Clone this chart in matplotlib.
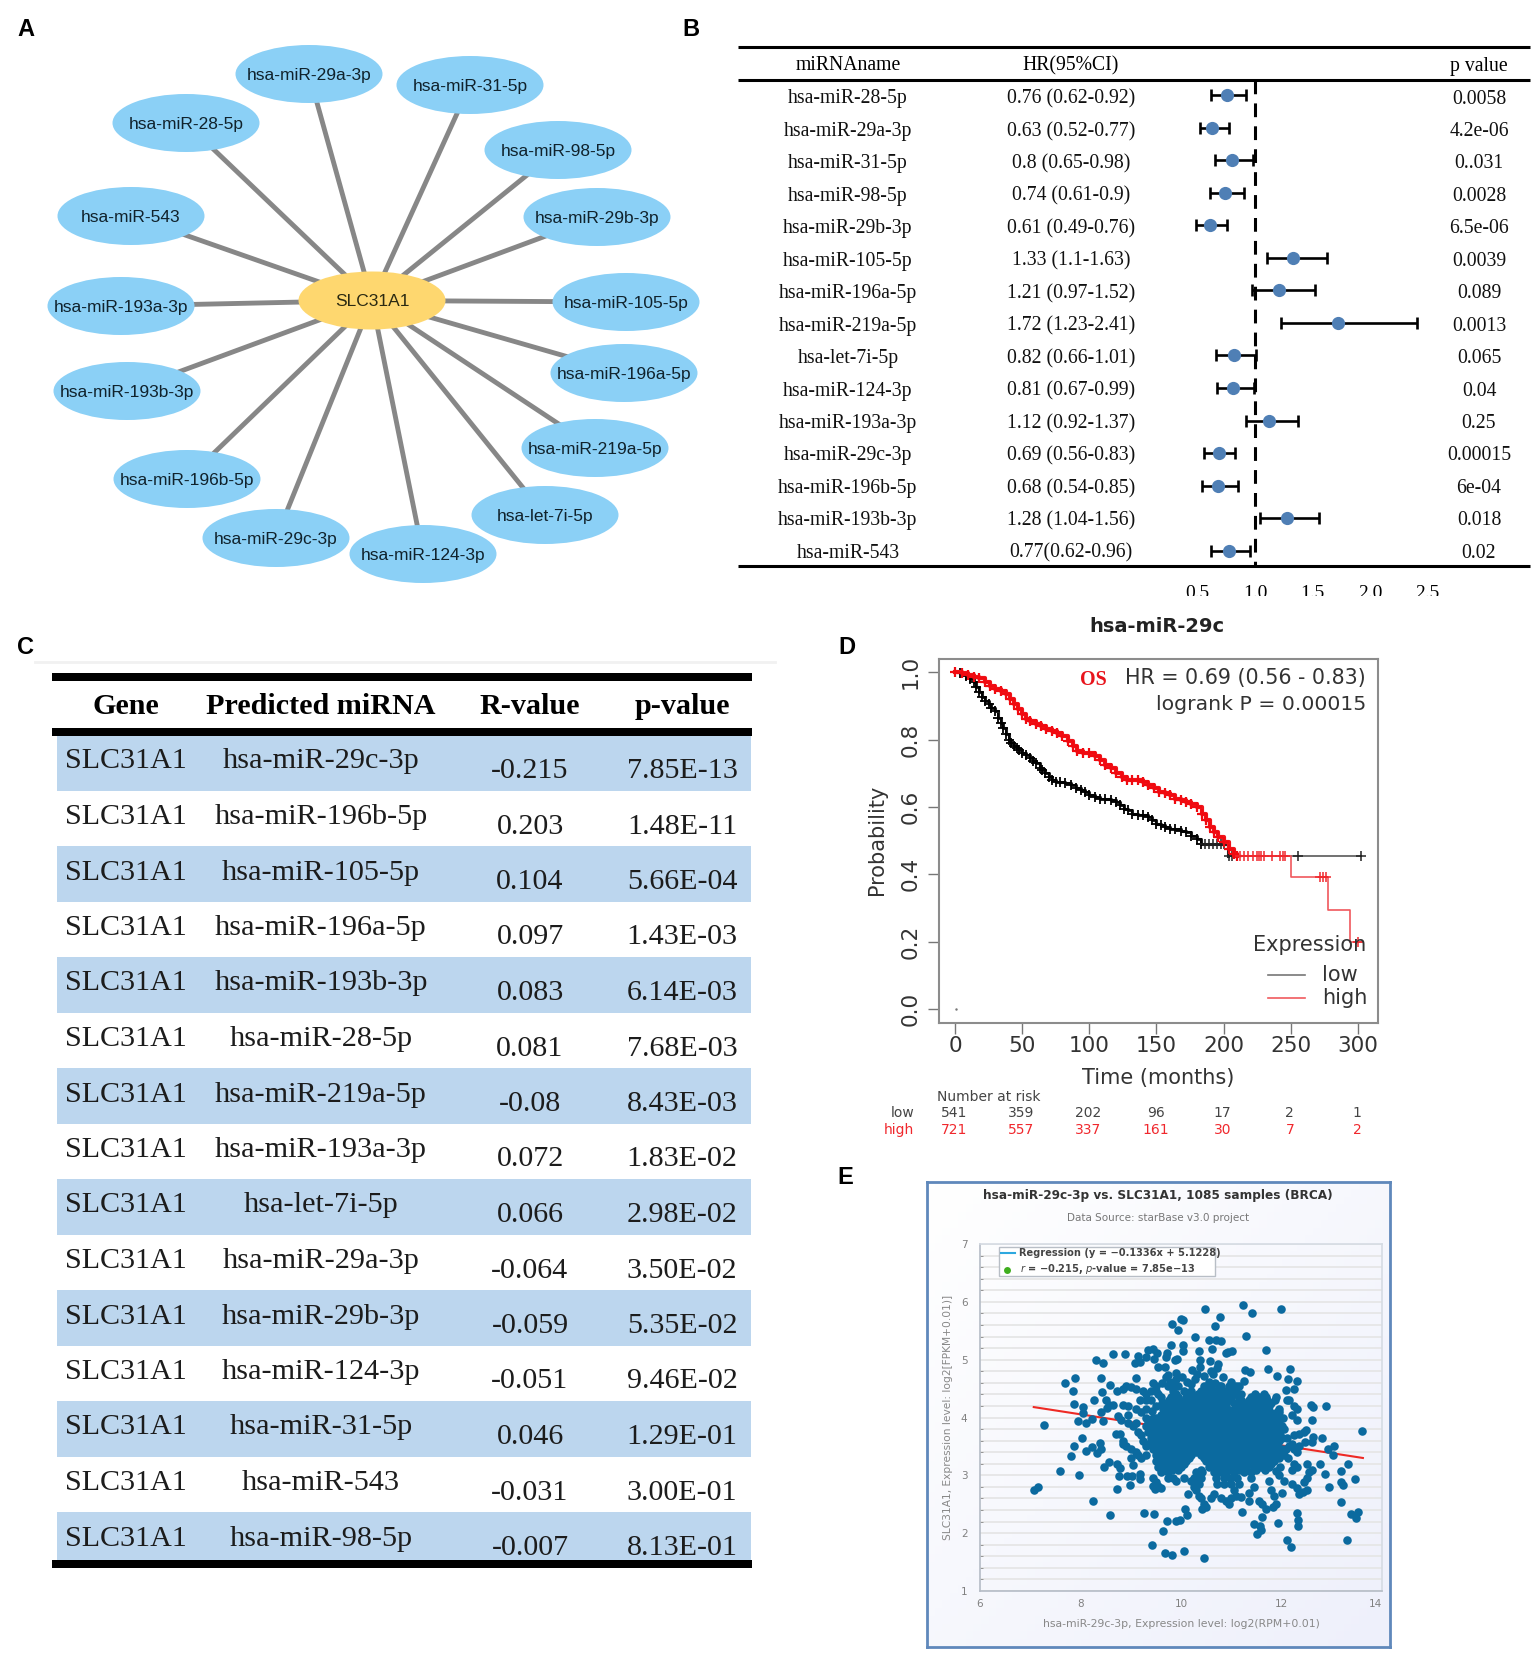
"""
Composite figure: miRNA network, forest table, correlation table, KM curve and scatter.
Page layout is laid out in pixels of the 1535x1654 picture.
"""

import numpy as np
import matplotlib
matplotlib.use('Agg')
import matplotlib.pyplot as plt
from matplotlib.patches import Ellipse, Rectangle

W, H = 1535, 1654
SANS = 'Liberation Sans'
SERIF = 'Liberation Serif'

# ---- panel A
hub_name = 'SLC31A1'
hub_xy = (372, 300.5)
node_names = ['hsa-miR-28-5p', 'hsa-miR-29a-3p', 'hsa-miR-31-5p', 'hsa-miR-98-5p', 'hsa-miR-29b-3p',
              'hsa-miR-105-5p', 'hsa-miR-196a-5p', 'hsa-miR-219a-5p', 'hsa-let-7i-5p', 'hsa-miR-124-3p',
              'hsa-miR-29c-3p', 'hsa-miR-196b-5p', 'hsa-miR-193b-3p', 'hsa-miR-193a-3p', 'hsa-miR-543']
node_x = [186, 309, 470, 558, 597, 626, 624, 595, 545, 423, 276, 187, 127, 121, 131]
node_y = [123, 74, 85, 150, 217, 302, 373, 448, 515, 554, 538, 479, 391, 306, 216]

# ---- panel B
forest_names = ['hsa-miR-28-5p', 'hsa-miR-29a-3p', 'hsa-miR-31-5p', 'hsa-miR-98-5p', 'hsa-miR-29b-3p',
                'hsa-miR-105-5p', 'hsa-miR-196a-5p', 'hsa-miR-219a-5p', 'hsa-let-7i-5p', 'hsa-miR-124-3p',
                'hsa-miR-193a-3p', 'hsa-miR-29c-3p', 'hsa-miR-196b-5p', 'hsa-miR-193b-3p', 'hsa-miR-543']
forest_text = ['0.76 (0.62-0.92)', '0.63 (0.52-0.77)', '0.8 (0.65-0.98)', '0.74 (0.61-0.9)', '0.61 (0.49-0.76)',
               '1.33 (1.1-1.63)', '1.21 (0.97-1.52)', '1.72 (1.23-2.41)', '0.82 (0.66-1.01)', '0.81 (0.67-0.99)',
               '1.12 (0.92-1.37)', '0.69 (0.56-0.83)', '0.68 (0.54-0.85)', '1.28 (1.04-1.56)', '0.77(0.62-0.96)']
hr = [0.76, 0.63, 0.8, 0.74, 0.61, 1.33, 1.21, 1.72, 0.82, 0.81, 1.12, 0.69, 0.68, 1.28, 0.77]
hr_low = [0.62, 0.52, 0.65, 0.61, 0.49, 1.1, 0.97, 1.23, 0.66, 0.67, 0.92, 0.56, 0.54, 1.04, 0.62]
hr_high = [0.92, 0.77, 0.98, 0.9, 0.76, 1.63, 1.52, 2.41, 1.01, 0.99, 1.37, 0.83, 0.85, 1.56, 0.96]
forest_p = ['0.0058', '4.2e-06', '0..031', '0.0028', '6.5e-06', '0.0039', '0.089', '0.0013', '0.065',
            '0.04', '0.25', '0.00015', '6e-04', '0.018', '0.02']
forest_ticks = [0.5, 1.0, 1.5, 2.0, 2.5]

# ---- panel C
table_head = ['Gene', 'Predicted miRNA', 'R-value', 'p-value']
table_mirna = ['hsa-miR-29c-3p', 'hsa-miR-196b-5p', 'hsa-miR-105-5p', 'hsa-miR-196a-5p', 'hsa-miR-193b-3p',
               'hsa-miR-28-5p', 'hsa-miR-219a-5p', 'hsa-miR-193a-3p', 'hsa-let-7i-5p', 'hsa-miR-29a-3p',
               'hsa-miR-29b-3p', 'hsa-miR-124-3p', 'hsa-miR-31-5p', 'hsa-miR-543', 'hsa-miR-98-5p']
table_r = ['-0.215', '0.203', '0.104', '0.097', '0.083', '0.081', '-0.08', '0.072', '0.066', '-0.064',
           '-0.059', '-0.051', '0.046', '-0.031', '-0.007']
table_p = ['7.85E-13', '1.48E-11', '5.66E-04', '1.43E-03', '6.14E-03', '7.68E-03', '8.43E-03', '1.83E-02',
           '2.98E-02', '3.50E-02', '5.35E-02', '9.46E-02', '1.29E-01', '3.00E-01', '8.13E-01']

# ---- panel D
low_t = [0, 4, 8, 11, 14, 16, 18, 20, 22, 25, 27, 30, 32, 34, 36, 38, 40, 42, 44, 46, 48, 50, 53, 56, 58, 60,
         63, 65, 67, 70, 72, 75, 78, 82, 86, 90, 94, 97, 100, 104, 108, 112, 116, 120, 123, 126, 129, 132,
         136, 140, 144, 147, 150, 153, 156, 160, 164, 168, 172, 176, 180, 183, 203, 302]
low_s = [1.0, .997, .988, .98, .97, .955, .94, .925, .915, .905, .895, .885, .865, .85, .835, .815, .80, .79,
         .78, .775, .77, .76, .755, .745, .735, .73, .715, .71, .70, .69, .68, .675, .675, .67, .665, .655,
         .65, .645, .635, .63, .625, .625, .62, .615, .605, .595, .59, .58, .575, .575, .57, .56, .55, .545,
         .54, .535, .535, .53, .525, .515, .505, .49, .455, .455]
high_t = [0, 5, 10, 14, 18, 22, 26, 30, 34, 38, 41, 44, 47, 50, 53, 56, 60, 64, 68, 72, 76, 80, 84, 88, 91, 95,
          100, 104, 108, 112, 116, 120, 124, 128, 132, 136, 140, 144, 148, 152, 156, 160, 164, 168, 172, 176,
          180, 184, 187, 190, 193, 196, 200, 204, 208, 210, 250, 277.5, 294, 303]
high_s = [1.0, .997, .993, .985, .982, .97, .96, .95, .945, .935, .92, .905, .89, .875, .86, .855, .845, .84,
          .83, .825, .82, .81, .795, .78, .765, .76, .76, .75, .74, .725, .715, .70, .69, .68, .68, .68, .675,
          .665, .655, .645, .64, .635, .625, .62, .615, .61, .60, .58, .56, .54, .525, .51, .495, .475, .46,
          .455, .392, .293, .198, .198]
low_cens_t = [186, 189, 192, 195, 198, 200, 204, 206, 255, 302]
low_cens_s = [.49, .49, .49, .49, .49, .49, .455, .455, .455, .455]
high_cens_t = [212, 215, 218, 222, 225, 226, 228, 230, 236, 242, 244, 246, 272, 274, 276, 300]
high_cens_s = [.455, .455, .455, .455, .455, .455, .455, .455, .455, .455, .455, .455, .392, .392, .392, .198]
risk_times = [0, 50, 100, 150, 200, 250, 300]
risk_low = [541, 359, 202, 96, 17, 2, 1]
risk_high = [721, 557, 337, 161, 30, 7, 2]

# ---- panel E
reg_x = [7.07, 13.62]
reg_y = [4.18, 3.30]
# points that stand alone, read one by one
loose_points = [
    (7.07, 2.74), (7.16, 2.79), (7.27, 3.87), (7.59, 3.07), (7.70, 4.60), (7.90, 4.69), (7.86, 4.46), (7.88, 4.23),
    (7.97, 3.0), (7.82, 3.34), (7.88, 3.50), (8.03, 3.64), (8.10, 3.42), (7.95, 3.94), (8.04, 4.18), (8.04, 4.07),
    (8.11, 3.9), (8.22, 3.98), (8.23, 3.49), (8.25, 2.55), (8.31, 4.99), (8.44, 4.94), (8.40, 4.68), (8.42, 4.44),
    (8.27, 4.30), (8.40, 4.10), (8.44, 3.94), (8.39, 3.56), (8.40, 3.46), (8.33, 3.38), (8.46, 3.15), (8.56, 3.23),
    (8.58, 2.31), (8.58, 4.56), (8.64, 5.10), (8.88, 5.09), (8.50, 4.30), (8.56, 4.21), (8.64, 4.22), (8.52, 4.17),
    (8.72, 3.2), (8.79, 3.12), (8.77, 2.98), (8.72, 2.77), (8.92, 2.98), (8.98, 2.83), (9.02, 2.98), (9.18, 3.03),
    (9.18, 2.93), (9.27, 2.35), (9.47, 2.34), (9.43, 1.80), (9.64, 2.04), (9.72, 2.21), (9.69, 1.65), (9.82, 1.62),
    (9.91, 2.21), (9.98, 2.23), (10.06, 1.69), (10.07, 2.42), (10.11, 2.32), (10.45, 1.57), (10.41, 2.41),
    (11.21, 2.37), (11.46, 2.15), (11.51, 1.99), (11.6, 2.05), (11.57, 2.12), (11.61, 2.28), (11.69, 2.41),
    (11.83, 2.45), (11.93, 2.18), (12.10, 1.89), (12.18, 1.76), (12.30, 2.35), (12.32, 2.23), (12.33, 2.12),
    (13.30, 1.88), (13.19, 2.54), (13.38, 2.34), (13.52, 2.37), (13.49, 2.26), (13.46, 2.93), (13.19, 2.89),
    (13.22, 2.84), (12.95, 2.80), (12.86, 3.02), (12.76, 3.19), (13.19, 3.07), (13.33, 3.19), (13.60, 3.77),
    (13.04, 3.51), (13.02, 3.35), (12.93, 3.46), (12.81, 3.64), (12.89, 4.20), (12.59, 4.21), (12.63, 4.18),
    (12.61, 3.96), (12.63, 3.66), (12.61, 3.58), (12.46, 3.58), (12.49, 3.78), (12.51, 2.74),
    (10.47, 5.87), (11.24, 5.94), (11.41, 5.80), (11.99, 5.87), (10.78, 5.74), (10.67, 5.59), (9.82, 5.62),
    (10.0, 5.70), (10.04, 5.68), (9.95, 5.52), (10.27, 5.40), (11.30, 5.41), (10.55, 5.34), (10.69, 5.34),
    (10.80, 5.32), (10.61, 5.18), (10.04, 5.26), (9.80, 5.25), (10.03, 5.15), (10.35, 5.15), (11.01, 5.15),
    (10.90, 5.11), (10.94, 5.13), (11.70, 5.16), (9.35, 5.17), (9.44, 5.19), (9.53, 5.11), (9.73, 5.11),
    (9.71, 5.05), (9.88, 4.99), (9.92, 5.01), (9.15, 5.07), (9.30, 5.05), (9.08, 4.95), (9.18, 4.96), (9.46, 5.02),
    (9.55, 4.87), (9.68, 4.88), (10.38, 4.99), (10.57, 4.97), (10.74, 4.93), (11.73, 4.84), (12.17, 4.84),
    (11.28, 4.82), (11.38, 4.79), (11.92, 4.72), (12.13, 4.66), (12.31, 4.63), (12.25, 4.50), (12.08, 4.48),
    (11.26, 4.63), (9.11, 4.69), (9.91, 4.77), (9.75, 4.74), (10.01, 4.70), (10.21, 4.82), (10.37, 4.88),
    (10.31, 4.76), (10.64, 4.75), (10.84, 4.70),
    (8.72, 4.45), (8.85, 4.5), (8.9, 4.55), (9.0, 4.52), (9.1, 4.5), (9.18, 4.3), (9.3, 4.4), (9.25, 4.45), (9.3, 4.3),
    (9.4, 4.3), (9.45, 4.6), (9.5, 4.55), (9.55, 4.4), (9.6, 4.35), (8.85, 4.22), (8.95, 4.2), (9.1, 4.15), (9.2, 4.1),
    (9.3, 4.15), (9.3, 4.0), (8.95, 4.05), (8.75, 4.02), (8.8, 3.95), (8.95, 3.9), (9.05, 3.85), (9.15, 3.75),
    (9.1, 3.9), (9.2, 3.7), (8.7, 3.72), (8.78, 3.72), (8.85, 3.6), (8.9, 3.5), (9.0, 3.45), (9.0, 3.3), (9.1, 3.4),
    (9.2, 3.3), (9.3, 3.35), (8.85, 3.55), (9.05, 3.18), (9.15, 3.35), (9.45, 2.95), (9.5, 2.88), (9.45, 2.82),
    (9.55, 2.82), (9.6, 2.78), (9.48, 2.76), (9.75, 2.95), (9.85, 2.95), (9.9, 2.9), (10.05, 2.95),
    (10.2, 2.9), (10.25, 2.8), (10.3, 2.75), (10.35, 2.85), (10.35, 2.65), (10.4, 2.6), (10.45, 2.5), (10.5, 2.45),
    (10.6, 2.6), (10.65, 2.68), (10.8, 2.6), (10.9, 2.55), (10.95, 2.5), (11.0, 2.6), (11.05, 2.75), (11.1, 2.65),
    (11.2, 2.62), (11.35, 2.55), (11.35, 2.7), (11.45, 2.8), (11.55, 2.55), (11.62, 2.5), (11.75, 2.9), (11.8, 2.75),
    (11.85, 2.65), (11.9, 2.5), (12.0, 2.7), (11.95, 3.0), (12.05, 2.9), (12.2, 2.85), (12.3, 2.78), (12.35, 2.68),
    (12.42, 2.72), (12.2, 3.1), (12.25, 3.2), (12.3, 3.15), (12.5, 3.2), (12.55, 3.05), (12.5, 2.95), (12.45, 2.88),
    (12.6, 3.1), (10.13, 2.68),
    (12.15, 3.5), (12.25, 3.45), (12.35, 3.5), (12.2, 3.55), (12.3, 3.4), (12.3, 4.15), (12.25, 4.2), (12.1, 4.3),
    (12.15, 4.3), (12.2, 4.05), (12.3, 3.95), (12.25, 3.7), (12.35, 3.72), (12.45, 3.75),
    (9.7, 4.7), (9.78, 4.62), (9.85, 4.58), (9.9, 4.66), (10.12, 4.62), (10.2, 4.58), (10.28, 4.66), (9.62, 4.6),
    (10.55, 4.62), (10.68, 4.6), (10.8, 4.55), (11.0, 4.62), (11.1, 4.55), (10.45, 4.72), (10.6, 4.8), (10.72, 4.85),
    (9.5, 4.45), (9.62, 4.25), (9.42, 4.12), (9.5, 4.2), (9.35, 3.9), (9.45, 4.0), (9.25, 3.6), (9.3, 3.5),
    (11.95, 4.1), (12.02, 4.0), (12.05, 3.8), (12.1, 3.65), (12.08, 3.45), (12.12, 3.3), (11.98, 3.15), (11.9, 3.08),
    (11.2, 4.3), (11.2, 4.4), (11.25, 4.2), (11.1, 4.25), (11.15, 4.35), (11.22, 4.1),
]
# the dense middle of the cloud, read band by band
band_y = [4.55, 4.45, 4.35, 4.25, 4.15, 4.05, 3.95, 3.85, 3.75, 3.65, 3.55, 3.45, 3.35, 3.25, 3.15, 3.05, 2.95, 2.85]
band_x = [
    [9.75, 9.95, 10.45, 10.6, 10.75, 10.95, 11.15],
    [9.4, 9.85, 10.05, 10.2, 10.4, 10.5, 10.6, 10.7, 10.8, 10.9, 11.0, 11.1],
    [9.8, 9.95, 10.1, 10.25, 10.4, 10.55, 10.7, 10.85, 11.0, 11.15, 11.4, 11.55, 11.7, 11.9],
    [9.7, 9.85, 10.0, 10.15, 10.3, 10.45, 10.6, 10.75, 10.9, 11.05, 11.3, 11.45, 11.6, 11.8],
    [9.65, 9.8, 9.93, 10.08, 10.22, 10.36, 10.5, 10.64, 10.78, 10.92, 11.06, 11.25, 11.38, 11.52, 11.68, 11.95],
    [9.6, 9.75, 9.88, 10.02, 10.16, 10.3, 10.44, 10.58, 10.72, 10.86, 11.0, 11.14, 11.28, 11.42, 11.56, 11.7, 11.85],
    [9.4, 9.55, 9.7, 9.84, 9.98, 10.12, 10.26, 10.4, 10.54, 10.68, 10.82, 10.96, 11.1, 11.24, 11.38, 11.52, 11.66, 11.8, 11.95],
    [9.3, 9.45, 9.6, 9.75, 9.9, 10.04, 10.18, 10.32, 10.46, 10.6, 10.74, 10.88, 11.02, 11.16, 11.3, 11.44, 11.58, 11.72, 11.86, 12.0],
    [9.35, 9.5, 9.65, 9.8, 9.94, 10.08, 10.22, 10.36, 10.5, 10.64, 10.78, 10.92, 11.06, 11.2, 11.34, 11.48, 11.62, 11.76, 11.9],
    [9.4, 9.55, 9.7, 9.84, 9.98, 10.12, 10.26, 10.4, 10.54, 10.68, 10.82, 10.96, 11.1, 11.24, 11.38, 11.52, 11.66, 11.8, 11.94, 12.0],
    [9.35, 9.5, 9.65, 9.8, 9.94, 10.08, 10.22, 10.36, 10.5, 10.64, 10.78, 10.92, 11.06, 11.2, 11.34, 11.48, 11.62, 11.76, 11.9],
    [9.45, 9.6, 9.75, 9.9, 10.04, 10.18, 10.32, 10.46, 10.6, 10.74, 10.88, 11.02, 11.16, 11.3, 11.44, 11.58, 11.72, 11.86, 12.0],
    [9.5, 9.64, 9.78, 9.92, 10.06, 10.2, 10.4, 10.55, 10.7, 10.85, 11.0, 11.15, 11.3, 11.45, 11.6, 11.75, 11.9, 12.05],
    [9.5, 9.65, 9.8, 9.95, 10.1, 10.5, 10.65, 10.8, 10.95, 11.1, 11.25, 11.4, 11.55, 11.7, 11.85],
    [9.55, 9.7, 9.85, 10.0, 10.55, 10.7, 10.85, 11.0, 11.15, 11.3, 11.45, 11.6, 11.75],
    [9.6, 9.75, 10.3, 10.42, 10.65, 10.78, 10.9, 11.05, 11.25, 11.4],
    [10.25, 10.4, 10.7, 10.85, 10.98, 11.12, 11.4],
    [10.3, 10.72, 10.85, 11.0, 11.15],
]
# second pass over the same middle, between the bands above
fill_y = [4.4, 4.3, 4.2, 4.1, 4.0, 3.9, 3.8, 3.7, 3.6, 3.5, 3.4, 3.3, 3.2, 3.1]
fill_x = [
    [9.9, 10.12, 10.33, 10.47, 10.63, 10.78, 10.95, 11.05, 11.48, 11.65],
    [9.77, 9.92, 10.08, 10.22, 10.38, 10.52, 10.68, 10.82, 10.98, 11.36, 11.53, 11.72, 11.87],
    [9.72, 9.88, 10.02, 10.18, 10.32, 10.46, 10.62, 10.76, 10.9, 11.12, 11.32, 11.46, 11.62, 11.75],
    [9.68, 9.82, 9.96, 10.1, 10.24, 10.38, 10.52, 10.66, 10.8, 10.94, 11.08, 11.2, 11.34, 11.48, 11.62, 11.78, 11.92],
    [9.5, 9.62, 9.78, 9.92, 10.06, 10.2, 10.34, 10.48, 10.62, 10.76, 10.9, 11.04, 11.18, 11.32, 11.46, 11.6, 11.74, 11.9],
    [9.4, 9.52, 9.68, 9.82, 9.96, 10.1, 10.24, 10.38, 10.52, 10.66, 10.8, 10.94, 11.08, 11.22, 11.36, 11.5, 11.64, 11.78, 11.93],
    [9.42, 9.58, 9.72, 9.86, 10.0, 10.14, 10.28, 10.42, 10.56, 10.7, 10.84, 10.98, 11.12, 11.26, 11.4, 11.54, 11.68, 11.82, 11.96],
    [9.45, 9.62, 9.76, 9.9, 10.04, 10.18, 10.32, 10.46, 10.6, 10.74, 10.88, 11.02, 11.16, 11.3, 11.44, 11.58, 11.72, 11.86, 11.98],
    [9.42, 9.58, 9.72, 9.86, 10.0, 10.14, 10.28, 10.42, 10.56, 10.7, 10.84, 10.98, 11.12, 11.26, 11.4, 11.54, 11.68, 11.82, 11.96],
    [9.48, 9.66, 9.82, 9.96, 10.1, 10.24, 10.38, 10.52, 10.66, 10.8, 10.94, 11.08, 11.22, 11.36, 11.5, 11.64, 11.78, 11.92],
    [9.52, 9.7, 9.85, 10.0, 10.14, 10.3, 10.46, 10.62, 10.76, 10.9, 11.05, 11.2, 11.36, 11.5, 11.66, 11.82, 11.98],
    [9.58, 9.72, 9.86, 10.02, 10.16, 10.45, 10.6, 10.74, 10.9, 11.04, 11.2, 11.34, 11.5, 11.64, 11.8, 11.95],
    [9.6, 9.76, 9.92, 10.05, 10.6, 10.75, 10.9, 11.05, 11.2, 11.35, 11.5, 11.65, 11.8],
    [9.65, 9.82, 9.95, 10.4, 10.72, 10.85, 11.0, 11.15, 11.3, 11.5, 11.68],
]
scatter_ticks_x = [6, 8, 10, 12, 14]
scatter_ticks_y = [1, 2, 3, 4, 5, 6, 7]

fig = plt.figure(figsize=(W / 100, H / 100), dpi=100, facecolor='white')


def add_ax(x0, y0, x1, y1, **kw):
    # axes from pixel box, y going down
    return fig.add_axes([x0 / W, 1 - y1 / H, (x1 - x0) / W, (y1 - y0) / H], **kw)


page = add_ax(0, 0, W, H)
page.set_xlim(0, W)
page.set_ylim(H, 0)
page.axis('off')
page.set_zorder(10)

for name, x, y in [('A', 26, 29), ('B', 691, 29), ('C', 26, 647), ('D', 847, 647), ('E', 845, 1178)]:
    page.text(x, y, name, ha='center', va='center', fontsize=17, fontweight='bold', family=SANS)

# ---- A: network
for x, y in zip(node_x, node_y):
    page.plot([hub_xy[0], x], [hub_xy[1], y], color='#878787', lw=3.5, zorder=1, solid_capstyle='butt')
for name, x, y in zip(node_names, node_x, node_y):
    page.add_patch(Ellipse((x, y), 147, 58, fc='#8bd0f6', ec='none', zorder=2))
    page.text(x, y + 1.5, name, ha='center', va='center', fontsize=12.5, family=SANS, color='#10222c', zorder=3)
page.add_patch(Ellipse(hub_xy, 147, 58, fc='#fed76f', ec='none', zorder=2))
page.text(hub_xy[0], hub_xy[1] + 1.5, hub_name, ha='center', va='center', fontsize=12.5, family=SANS, color='#2b2a12', zorder=3)

# ---- B: forest table
for y in [47, 80, 566]:
    page.plot([738, 1530], [y, y], color='black', lw=2.2, solid_capstyle='butt')
page.text(848, 66, 'miRNAname', ha='center', va='center', fontsize=14.2, family=SERIF)
page.text(1071, 66, 'HR(95%CI)', ha='center', va='center', fontsize=14.2, family=SERIF)
page.text(1479, 66, 'p value', ha='center', va='center', fontsize=14.2, family=SERIF)
for i in range(len(forest_names)):
    y = 99 + 32.45 * i
    page.text(848, y, forest_names[i], ha='center', va='center', fontsize=14.2, family=SERIF, color='#111111')
    page.text(1071, y, forest_text[i], ha='center', va='center', fontsize=14.2, family=SERIF, color='#111111')
    page.text(1479, y, forest_p[i], ha='center', va='center', fontsize=14.2, family=SERIF, color='#111111')

# forest marks: row 0 sits at 95 px, rows are 32.55 px apart, HR 1.0 at 1255 px, 115 px per unit
fx = add_ax(1140, 47, 1460, 596)
fx.set_zorder(11)
fx.set_xlim(1 + (1140 - 1255) / 115, 1 + (1460 - 1255) / 115)
fx.set_ylim((596 - 95) / 32.55, (47 - 95) / 32.55)
fx.axis('off')
fx.patch.set_alpha(0)
rows = np.arange(len(hr))
dash_top = (80 - 95) / 32.55
dash_bot = (566 - 95) / 32.55
fx.plot([1, 1], [dash_top, dash_bot], color='black', lw=2.2, dashes=(4.5, 3), zorder=1)
fx.errorbar(hr, rows, xerr=[np.array(hr) - np.array(hr_low), np.array(hr_high) - np.array(hr)], fmt='none',
            ecolor='black', elinewidth=1.9, capsize=4, capthick=1.9, zorder=2)
fx.plot(hr, rows, 'o', color='#4f7fb5', ms=9.5, mew=0, zorder=3)
for t in forest_ticks:
    fx.text(t, (594 - 95) / 32.55, '%.1f' % t, ha='center', va='center', fontsize=14, family=SERIF, clip_on=True)

# ---- C: table
page.plot([35, 775], [662, 662], color='#f1f1f1', lw=2)
col_x = [126, 321, 530, 682]
for i in range(len(table_mirna)):
    top = 735 + 55.5 * i
    if i % 2 == 0:
        page.add_patch(Rectangle((57, top), 694, 55.5, fc='#bcd6ee', ec='none', zorder=1))
    page.text(col_x[0], top + 26.5, hub_name, ha='center', va='center', fontsize=21.6, family=SERIF, color='#1c1c1c', zorder=2)
    page.text(col_x[1], top + 26.5, table_mirna[i], ha='center', va='center', fontsize=21.8, family=SERIF, color='#1c1c1c', zorder=2)
    page.text(col_x[2], top + 36, table_r[i], ha='center', va='center', fontsize=21.6, family=SERIF, color='#1c1c1c', zorder=2)
    page.text(col_x[3], top + 36, table_p[i], ha='center', va='center', fontsize=21.6, family=SERIF, color='#1c1c1c', zorder=2)
for name, x in zip(table_head, col_x):
    page.text(x, 707, name, ha='center', va='center', fontsize=21.7, fontweight='bold', family=SERIF)
for y0 in [673, 728, 1560]:
    page.add_patch(Rectangle((52, y0), 700, 8, fc='black', ec='none', zorder=3))

# ---- D: survival
ax = add_ax(939, 659, 1378, 1023)
ax.set_xlim(-11.9, 314.9)
ax.set_ylim(-0.041, 1.039)
ax.step(low_t[:-1], low_s[:-1], where='post', color='#222222', lw=2.2, zorder=2)
ax.step(low_t[-2:], low_s[-2:], where='post', color='#666666', lw=1.3, zorder=2)
ax.step(high_t[:-4], high_s[:-4], where='post', color='#f0141a', lw=3, zorder=3)
ax.step(high_t[-5:], high_s[-5:], where='post', color='#f0585c', lw=1.2, zorder=3)
ax.plot(low_t[:-2], low_s[:-2], '+', color='black', ms=6.5, mew=1.3, zorder=2)
ax.plot(high_t[:-4], high_s[:-4], '+', color='#f00a10', ms=7, mew=1.6, zorder=3)
ax.plot(low_cens_t, low_cens_s, '+', color='#222222', ms=6.5, mew=1.1, zorder=2)
ax.plot(high_cens_t, high_cens_s, '+', color='#f0282d', ms=6.5, mew=1.1, zorder=3)
ax.plot([1], [0], '.', color='#777777', ms=1.5)
ax.set_xticks(risk_times)
ax.set_yticks([0, 0.2, 0.4, 0.6, 0.8, 1.0])
ax.tick_params(axis='x', labelsize=15.5, length=8, width=1, color='#777777', labelcolor='#333333', pad=1)
ax.tick_params(axis='y', labelsize=15.5, length=8, width=1, color='#777777', labelcolor='#333333', pad=5.5)
for lab in ax.get_yticklabels():
    lab.set_rotation(90)
    lab.set_va('center')
for s in ax.spines.values():
    s.set_color('#8c8c8c')
    s.set_linewidth(1.5)

page.text(1157, 626, 'hsa-miR-29c', ha='center', va='center', fontsize=14, fontweight='bold', family='DejaVu Sans', color='#222222')
page.text(877, 840, 'Probability', ha='center', va='center', rotation=90, fontsize=15, family='DejaVu Sans', color='#333333')
page.text(1158, 1078, 'Time (months)', ha='center', va='center', fontsize=15, family='DejaVu Sans', color='#333333')
page.text(1366, 678, 'HR = 0.69 (0.56 - 0.83)', ha='right', va='center', fontsize=14.9, family='DejaVu Sans', color='#333333')
page.text(1366, 704, 'logrank P = 0.00015', ha='right', va='center', fontsize=14.7, family='DejaVu Sans', color='#333333')
page.text(1093, 680, 'OS', ha='center', va='center', fontsize=14.5, fontweight='bold', family=SERIF, color='#e8141c')
page.text(1366, 945, 'Expression', ha='right', va='center', fontsize=15, family='DejaVu Sans', color='#333333')
page.plot([1268, 1305], [975, 975], color='#777777', lw=1.2)
page.plot([1268, 1305], [998, 998], color='#f05a5e', lw=1.2)
page.text(1322, 975, 'low', ha='left', va='center', fontsize=15, family='DejaVu Sans', color='#333333')
page.text(1322, 998, 'high', ha='left', va='center', fontsize=15, family='DejaVu Sans', color='#333333')
page.text(937, 1097, 'Number at risk', ha='left', va='center', fontsize=10, family='DejaVu Sans', color='#444444')
page.text(914, 1113, 'low', ha='right', va='center', fontsize=10, family='DejaVu Sans', color='#444444')
page.text(914, 1130, 'high', ha='right', va='center', fontsize=10, family='DejaVu Sans', color='#f0282d')
for t, a, b in zip(risk_times, risk_low, risk_high):
    px = 954 + t * 403 / 300
    page.text(px, 1113, str(a), ha='center', va='center', fontsize=10, family='DejaVu Sans', color='#444444')
    page.text(px, 1130, str(b), ha='center', va='center', fontsize=10, family='DejaVu Sans', color='#f0282d')

# ---- E: scatter, with its framed background
bg = add_ax(927, 1182, 1390, 1647)
grad = np.add.outer(np.linspace(0, 1, 60), np.linspace(0, 1, 60)) / 2
bg.imshow(grad, cmap=matplotlib.colors.LinearSegmentedColormap.from_list('bgc', ['#ffffff', '#eef0fb']),
          aspect='auto', origin='upper')
bg.set_xticks([])
bg.set_yticks([])
for s in bg.spines.values():
    s.set_color('#5f88bb')
    s.set_linewidth(2)

sc = add_ax(980, 1244, 1382, 1591)
sc.patch.set_alpha(0)
sc.set_xlim(6, 14)
sc.set_ylim(1, 7)
sc.set_xticks(scatter_ticks_x)
sc.set_yticks(scatter_ticks_y)
sc.set_yticks(np.arange(1, 7.01, 0.2), minor=True)
sc.grid(axis='y', which='both', color='#e6e6e6', lw=1.3, zorder=0)
sc.set_axisbelow(True)
sc.tick_params(axis='x', which='major', labelsize=7.5, labelcolor='#808080', length=0, pad=6)
sc.tick_params(axis='y', which='major', labelsize=7.5, labelcolor='#808080', length=0, pad=9)
sc.tick_params(axis='y', which='minor', length=2, color='#888888', direction='in')
sc.get_xticklabels()[-1].set_ha('right')
for name, s in sc.spines.items():
    s.set_color('#d5dbe3' if name in ('top', 'right') else '#b5bcc6')
    s.set_linewidth(1.2)

xs = [p[0] for p in loose_points]
ys = [p[1] for p in loose_points]
for y, row in zip(band_y + fill_y, band_x + fill_x):
    for x in row:
        xs.append(x)
        ys.append(y)
sc.plot(reg_x, reg_y, color='#ee2a24', lw=1.5, zorder=2)
sc.scatter(xs, ys, s=38, color='#0b6a9f', linewidths=0, zorder=3)

page.text(1158, 1196, 'hsa-miR-29c-3p vs. SLC31A1, 1085 samples (BRCA)', ha='center', va='center', fontsize=8.7,
          fontweight='bold', family='DejaVu Sans', color='#333333')
page.text(1158, 1218, 'Data Source: starBase v3.0 project', ha='center', va='center', fontsize=7.5,
          family='DejaVu Sans', color='#777777')
page.text(1181, 1624, 'hsa-miR-29c-3p, Expression level: log2(RPM+0.01)', ha='center', va='center', fontsize=7.8,
          family='DejaVu Sans', color='#888888')
page.text(948, 1417, 'SLC31A1, Expression level: log2[FPKM+0.01)]', ha='center', va='center', rotation=90,
          fontsize=7.7, family='DejaVu Sans', color='#888888')
page.add_patch(Rectangle((999, 1247), 216, 29, fc='white', ec='#b8bec6', lw=1, zorder=4))
page.plot([1001, 1015], [1252.5, 1252.5], color='#2ea8df', lw=1.5, zorder=5)
page.plot([1007], [1269.5], 'o', color='#3fae1e', ms=5, mew=0, zorder=5)
page.text(1019, 1252.5, 'Regression (y = \u22120.1336x + 5.1228)', ha='left', va='center', fontsize=7.1,
          fontweight='bold', family='DejaVu Sans', color='#444444', zorder=5)
page.text(1020, 1269.5, '$\\mathit{r}$ = \u22120.215, $\\mathit{p}$-value = 7.85e\u221213', ha='left', va='center',
          fontsize=7.1, fontweight='bold', family='DejaVu Sans', color='#444444', zorder=5)

fig.savefig('out.png', dpi=100)
